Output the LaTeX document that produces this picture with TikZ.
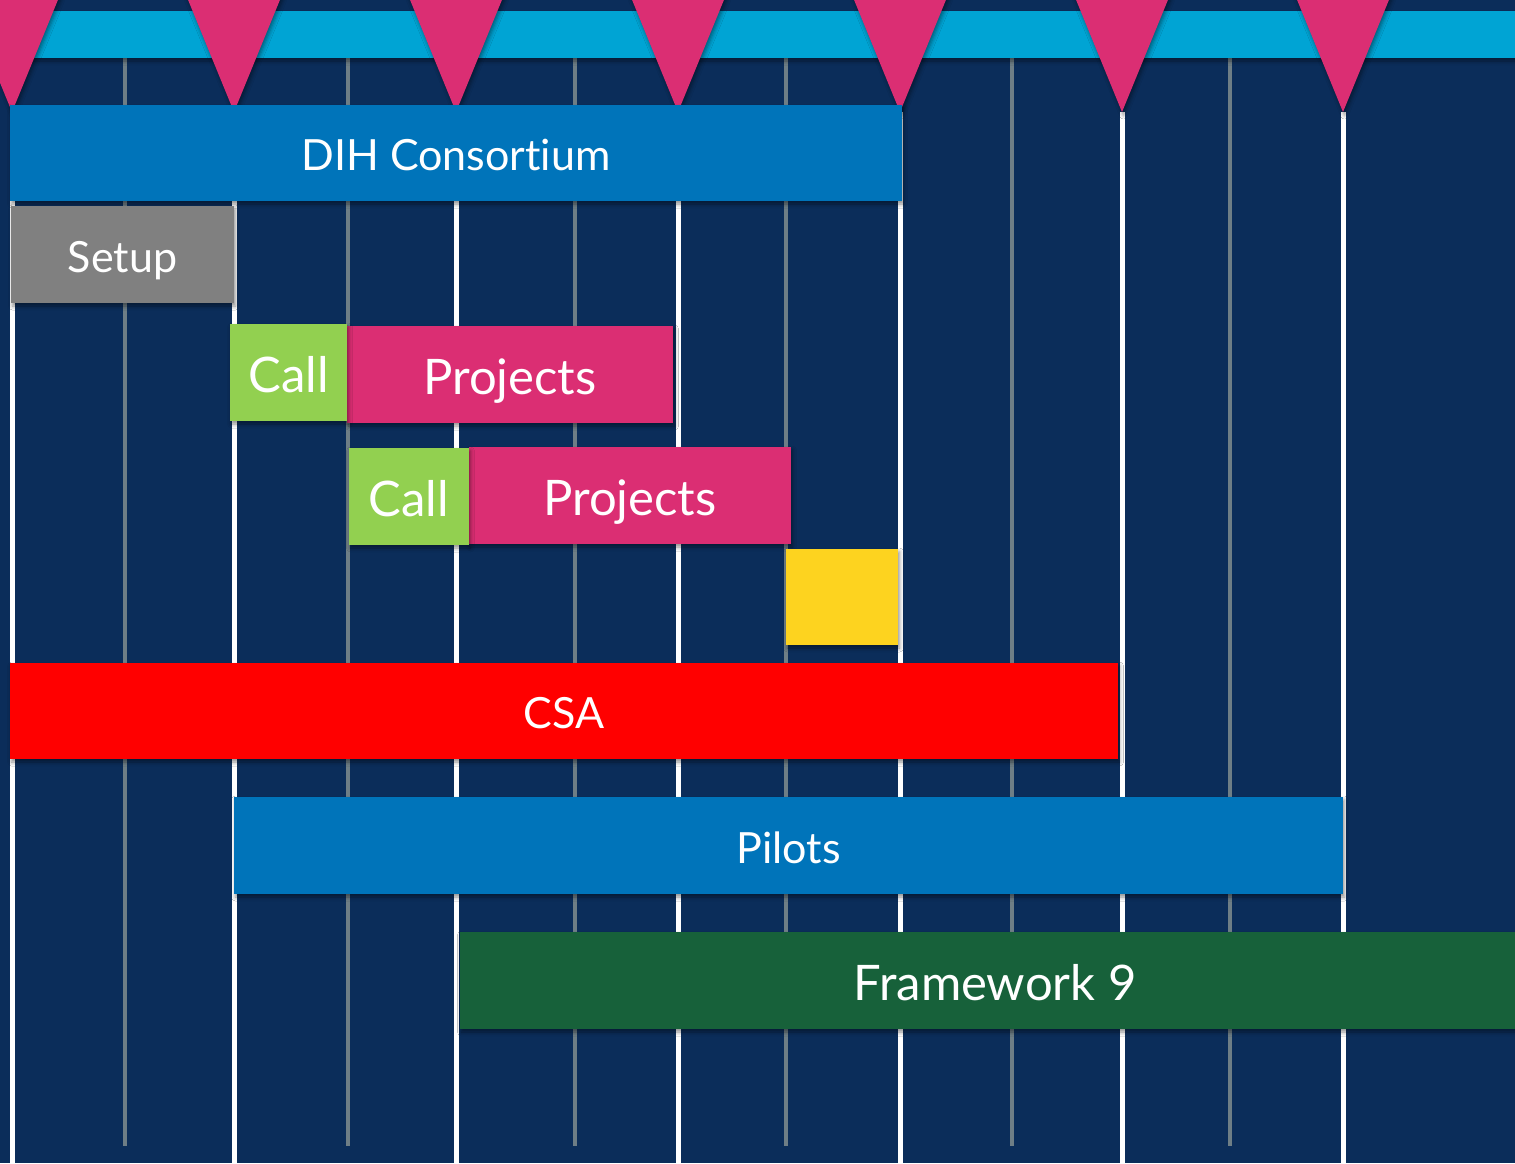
\documentclass[tikz,border=0pt]{standalone}
\usepackage{fontspec}
\setmainfont{Lato}[Ligatures=NoCommon]
\usetikzlibrary{shadows.blur}
\definecolor{navy}{HTML}{0B2D5A}
\definecolor{cyanbar}{HTML}{00A4D4}
\definecolor{pinkc}{HTML}{DB2E73}
\definecolor{bluec}{HTML}{0074BA}
\definecolor{grayc}{HTML}{808080}
\definecolor{greenc}{HTML}{92D050}
\definecolor{yellowc}{HTML}{FDD31F}
\definecolor{redc}{HTML}{FF0000}
\definecolor{dgreen}{HTML}{17613A}
\definecolor{gline}{HTML}{6E7E86}
\tikzset{
  softshadow/.style={blur shadow={shadow blur radius=4pt, shadow xshift=1.5pt, shadow yshift=-3pt, shadow opacity=45}},
  bar/.style={anchor=north west, inner sep=0pt, outer sep=0pt, text=white, softshadow,
    font=\fontsize{43}{50}\selectfont, text height=35pt, text depth=0pt},
  bigbar/.style={bar, font=\fontsize{49}{56}\selectfont, text height=39pt},
  whiteline/.style={draw=white, line width=5pt},
  grayline/.style={draw=gline, line width=3.5pt},
}
\begin{document}
\begin{tikzpicture}[x=1pt,y=-1pt]
\useasboundingbox (0,0) rectangle (1515,1163);
\fill[navy] (0,0) rectangle (1515,1163);
% grid lines
\foreach \x in {125,348,575,786,1012,1230} \draw[grayline] (\x,58) -- (\x,1146);
\foreach \x in {12,234,456,678,900,1122,1343} \draw[whiteline] (\x,112) -- (\x,1163);
% top band
\fill[cyanbar, softshadow] (-10,11) rectangle (1530,58);
\foreach \x in {12,234,456,678,900,1122,1343}
  \fill[pinkc, softshadow] (\x-50,-10) -- (\x+50,-10) -- (\x,112) -- cycle;
% bars
\node[bar, fill=bluec, minimum width=892pt, minimum height=96pt] (dih) at (10,105) {DIH Consort\kern0pt ium};
\node[bar, fill=grayc, minimum width=223pt, minimum height=97pt] (setup) at (11,206) {Setup};
\node[bigbar, fill=pinkc, minimum width=326pt, minimum height=97pt] (proj1) at (347,326) {Projects};
\node[bigbar, fill=greenc, minimum width=117pt, minimum height=97pt] (call1) at (230,324) {Call};
\node[bigbar, fill=pinkc, minimum width=322pt, minimum height=97pt] (proj2) at (469,447) {Projects};
\node[bigbar, fill=greenc, minimum width=120pt, minimum height=97pt] (call2) at (349,448) {Call};
\node[bar, fill=yellowc, minimum width=112pt, minimum height=96pt] (tbd) at (786,549) {};
\node[bar, fill=redc, minimum width=1108pt, minimum height=96pt] (csa) at (10,663) {CSA};
\node[bar, fill=bluec, minimum width=1109pt, minimum height=97pt] (pilots) at (234,797) {Pilots};
\node[bigbar, fill=dgreen, minimum width=1070pt, minimum height=97pt] (fw9) at (460,932) {Framework 9};
\end{tikzpicture}
\end{document}
